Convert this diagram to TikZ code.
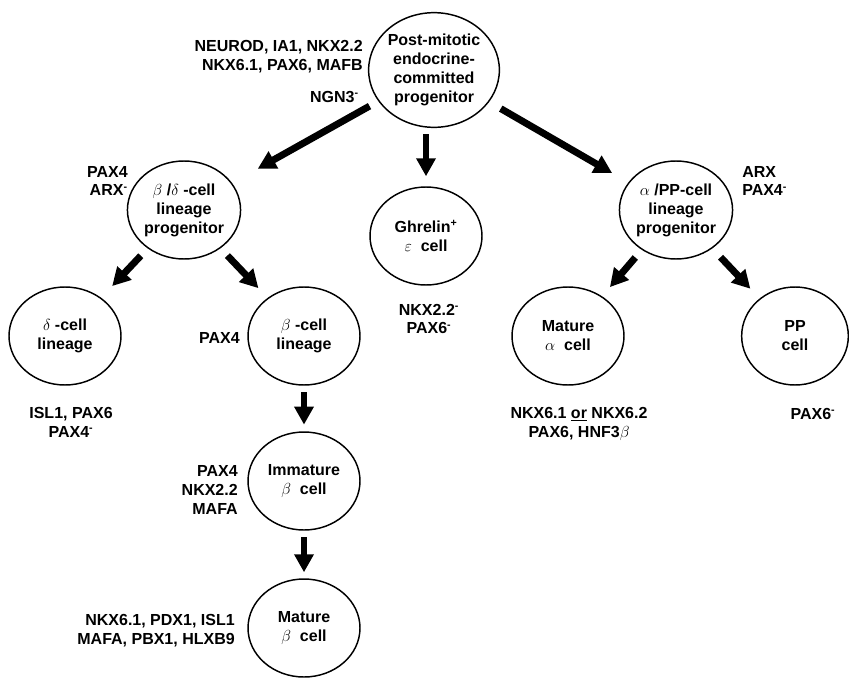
\documentclass[tikz,border=0pt]{standalone}
\usepackage{fontspec}
\setmainfont{Liberation Sans}
\usepackage{tikz}
\usetikzlibrary{positioning}
\usetikzlibrary{shapes,arrows.meta}

\begin{document}
\begin{tikzpicture}[x=0.75pt,y=-0.75pt,
  font=\fontsize{12}{14.2}\selectfont\bfseries,
  cell/.style={ellipse,draw,line width=1.1pt,inner sep=0pt,minimum width=84pt,minimum height=73.5pt,align=center},
  lbl/.style={inner sep=0pt},
  big/.style={-{Triangle[length=13.5pt,width=14pt]},line width=5.2pt}]
\useasboundingbox (0,0) rectangle (849,678);
\node[cell,minimum width=94.5pt,minimum height=86pt] at (434,70) (Post) {Post-mitotic\\endocrine-\\committed\\progenitor};
\node[cell] at (184,210) (BD) {$\beta$ /$\delta$ -cell\\lineage\\progenitor};
\node[cell] at (426,236) (Ghr) {Ghrelin\textsuperscript{+}\\$\varepsilon$\ \ cell};
\node[cell] at (676,210) (AP) {$\alpha$ /PP-cell\\lineage\\progenitor};
\node[cell] at (65,336) (Delta) {$\delta$ -cell\\lineage};
\node[cell] at (304,336) (Beta) {$\beta$ -cell\\lineage};
\node[cell] at (568,336) (Alpha) {Mature\\$\alpha$\ \ cell};
\node[cell,minimum width=80pt] at (795,336) (PP) {PP\\cell};
\node[cell] at (304,481) (Imm) {Immature\\$\beta$\ \ cell};
\node[cell] at (304,628) (Mat) {Mature\\$\beta$\ \ cell};
% factors
\node[lbl,anchor=east,align=right] at (363,57) (Lpost) {NEUROD, IA1, NKX2.2\\NKX6.1, PAX6, MAFB};
\node[lbl,anchor=east] at (359,97) (Lngn) {NGN3\textsuperscript{-}};
\node[lbl,anchor=east,align=right] at (128,181) (Lbd) {PAX4\\ARX\textsuperscript{-}};
\node[lbl,align=center] at (429,319) (Lghr) {NKX2.2\textsuperscript{-}\\PAX6\textsuperscript{-}};
\node[lbl,anchor=west,align=left] at (742,181) (Lap) {ARX\\PAX4\textsuperscript{-}};
\node[lbl,align=center] at (71,422) (Ldelta) {ISL1, PAX6\\PAX4\textsuperscript{-}};
\node[lbl,anchor=east] at (240,338) (Lbeta) {PAX4};
\node[lbl,align=center] at (579,424) (Lalpha) {NKX6.1 \underline{or} NKX6.2\\PAX6, HNF3$\beta$};
\node[lbl] at (813,414) (Lpp) {PAX6\textsuperscript{-}};
\node[lbl,anchor=east,align=right] at (238,490) (Limm) {PAX4\\NKX2.2\\MAFA};
\node[lbl,anchor=east,align=right] at (235,631) (Lmat) {NKX6.1, PDX1, ISL1\\MAFA, PBX1, HLXB9};
% arrows
\draw[big, shorten <=7.5pt, shorten >=22pt] (Post) -- (BD);
\draw[big, shorten <=4.5pt, shorten >=7.5pt] (Ghr |- Post.south) -- (Ghr);
\draw[big, shorten <=10pt, shorten >=14pt] (Post) -- (AP);
\draw[big, shorten <=7.5pt, shorten >=12pt] (BD) -- (Delta);
\draw[big, shorten <=7.5pt, shorten >=10pt] (BD) -- (Beta);
\draw[big, shorten <=7.5pt, shorten >=9pt] (AP) -- (Alpha);
\draw[big, shorten <=9pt, shorten >=10pt] (AP) -- (PP);
\draw[big, shorten <=5pt, shorten >=5pt] (Beta) -- (Imm);
\draw[big, shorten <=5pt, shorten >=4.5pt] (Imm) -- (Mat);
\end{tikzpicture}
\end{document}
